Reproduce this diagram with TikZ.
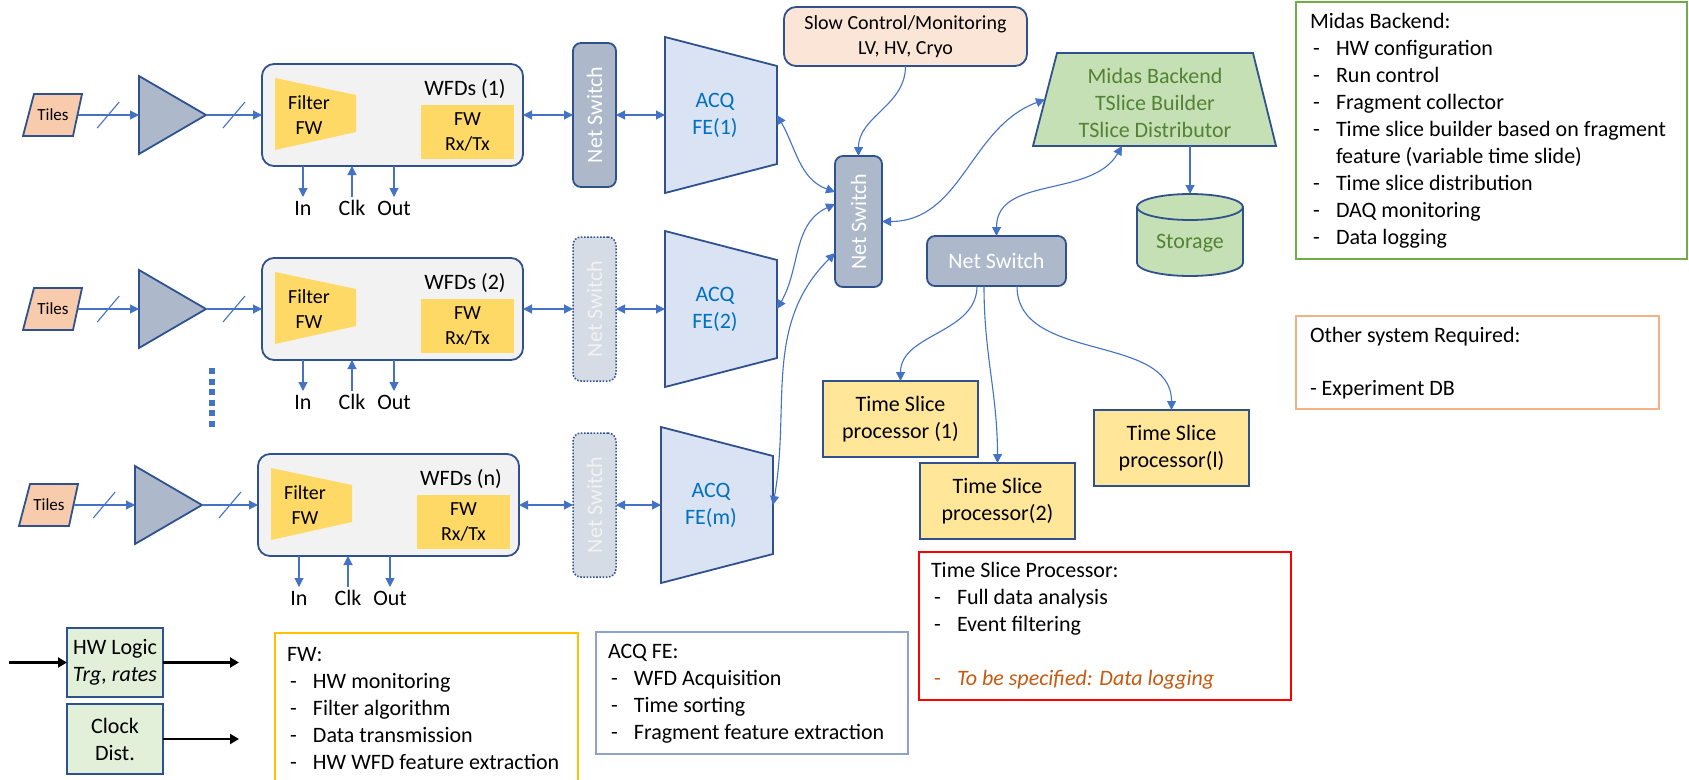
\documentclass[tikz,border=0pt]{standalone}
\usepackage{fontspec}
\setmainfont{Carlito}
\usetikzlibrary{arrows.meta,calc}

\definecolor{wireblue}{HTML}{4472C4}
\definecolor{rim}{HTML}{2F528F}
\definecolor{tilefill}{HTML}{F8CBAD}
\definecolor{switchfill}{HTML}{ADB9CA}
\definecolor{switchpale}{HTML}{D6DCE5}
\definecolor{boardfill}{HTML}{F2F2F2}
\definecolor{fwfill}{HTML}{FFD966}
\definecolor{fefill}{HTML}{DAE3F3}
\definecolor{fetext}{HTML}{0070C0}
\definecolor{slowfill}{HTML}{FBE5D6}
\definecolor{midfill}{HTML}{C5E0B4}
\definecolor{midtext}{HTML}{548235}
\definecolor{tspfill}{HTML}{FFE699}
\definecolor{logicfill}{HTML}{E2F0D9}
\definecolor{midrim}{HTML}{70AD47}
\definecolor{otherrim}{HTML}{F4B183}
\definecolor{tsprim}{HTML}{FF0000}
\definecolor{todo}{HTML}{C55A11}
\definecolor{fwrim}{HTML}{FFC000}
\definecolor{acqrim}{HTML}{8FA3C8}

\newcommand{\fsz}[2]{\fontsize{#1}{#2}\selectfont}
\newcommand{\ditem}[1]{\makebox[26pt][l]{\hspace{3pt}-}#1}
\newcommand{\dcont}[1]{\hspace*{26pt}#1}

\tikzset{
  every node/.style={inner sep=0pt, outer sep=0pt},
  txt/.style={font=\fsz{22}{27}, align=center},
  wire/.style={draw=wireblue, line width=1.1pt},
  shapeline/.style={draw=rim, line width=1.8pt},
  board/.style={shapeline, fill=boardfill, rounded corners=12pt},
  switchbox/.style={shapeline, fill=switchfill, rounded corners=8pt},
  paleswitch/.style={draw=rim, line width=1.5pt, dash pattern=on 1.6pt off 1.6pt, fill=switchpale, rounded corners=8pt},
  slowbox/.style={shapeline, fill=slowfill, rounded corners=12pt, font=\fsz{20}{25}, align=center},
  tspbox/.style={shapeline, fill=tspfill, txt},
  logic/.style={shapeline, fill=logicfill, txt},
  descbox/.style={line width=1.4pt, fill=white},
  desctext/.style={font=\fsz{22}{27}, align=left, anchor=north west},
  blackarrow/.style={draw=black, line width=2.2pt, -{Triangle[width=10pt,length=9pt]}},
  rowlabel/.style={txt, anchor=north, text height=15pt, text depth=5pt},
}

% one acquisition chain: tiles, amplifier, WFD board, network switch, front end
% #1 id, #2 row centre (px from top), #3 x offset, #4 board index,
% #5 switch style, #6 front-end label, #7 switch text colour
\newcommand{\wfdrow}[7]{%
  \path[shapeline, fill=tilefill] (34+#3,-#2+21) -- (82+#3,-#2+21) -- (73+#3,-#2-21) -- (23+#3,-#2-21) -- cycle;
  \node[font=\fsz{17}{20}, minimum width=49pt, minimum height=42pt] (tiles#1) at (53+#3,-#2) {Tiles};
  \path[shapeline, fill=switchfill] (139+#3,-#2+39) -- (206+#3,-#2) -- (139+#3,-#2-39) -- cycle;
  \node[minimum width=67pt, minimum height=78pt] (amp#1) at (172.5+#3,-#2) {};
  \node[board, minimum width=261pt, minimum height=102pt] (wfd#1) at (392.5+#3,-#2) {};
  \path[fill=fwfill] (275+#3,-#2+37) -- (356+#3,-#2+20) -- (356+#3,-#2-17) -- (275+#3,-#2-35) -- cycle;
  \node[font=\fsz{20}{25}, align=center] (filt#1) at (309+#3,-#2) {Filter\\FW};
  \node[txt] (lab#1) at (465+#3,-#2+26) {WFDs (#4)};
  \node[fill=fwfill, minimum width=93pt, minimum height=54pt, font=\fsz{20}{25}, align=center] (rxtx#1) at (467.5+#3,-#2-17) {FW\\Rx/Tx};
  \node[rowlabel] (in#1) at (303+#3,-#2-85) {In};
  \node[rowlabel] (clk#1) at (352+#3,-#2-85) {Clk};
  \node[rowlabel] (out#1) at (394+#3,-#2-85) {Out};
  \node[#5, minimum width=43pt, minimum height=144pt] (ns#1) at (594.5,-#2) {};
  \node[txt, rotate=90, text=#7] (nst#1) at (ns#1) {Net Switch};
  \path[shapeline, fill=fefill] (665+#3,-#2+78) -- (777+#3,-#2+49) -- (777+#3,-#2-49) -- (665+#3,-#2-78) -- cycle;
  \node[minimum width=112pt, minimum height=156pt] (fe#1) at (721+#3,-#2) {};
  \node[txt, text=fetext] (fet#1) at (715+#3,-#2) {ACQ\\#6};
  \draw[wire, ->] (tiles#1.east) -- (amp#1.west);
  \draw[wire] ($(tiles#1.east)!0.5!(amp#1.west)$) +(-11,-13) -- +(11,13);
  \draw[wire, ->] (amp#1.east) -- (wfd#1.west);
  \draw[wire] ($(amp#1.east)!0.5!(wfd#1.west)$) +(-11,-13) -- +(11,13);
  \draw[wire, <->] (wfd#1.east) -- (ns#1.west);
  \draw[wire, <->] (ns#1.east) -- (fe#1.west);
  \draw[wire, ->] (wfd#1.south -| in#1.north) -- ([yshift=3pt]in#1.north);
  \draw[wire, ->] ([yshift=3pt]clk#1.north) -- (wfd#1.south -| clk#1.north);
  \draw[wire, ->] (wfd#1.south -| out#1.north) -- ([yshift=3pt]out#1.north);
}

\begin{document}
\begin{tikzpicture}[x=1pt, y=1pt, >={Triangle[width=9pt,length=9pt]}]
\useasboundingbox (0,0) rectangle (1689,-779);
\fill[white] (0,0) rectangle (1689,-779);

% acquisition chains
\wfdrow{1}{115}{0}{1}{switchbox}{FE(1)}{white}
\wfdrow{2}{309}{0}{2}{paleswitch}{FE(2)}{boardfill}
\wfdrow{3}{505}{-4}{n}{paleswitch}{FE(m)}{boardfill}

% vertical ellipsis between chains
\draw[wireblue, line width=6pt, dash pattern=on 6pt off 4.5pt] (212,-368) -- (212,-431);

% central switch
\node[switchbox, minimum width=47pt, minimum height=131pt] (csw) at (858.5,-221.5) {};
\node[txt, rotate=90, text=white] (cswt) at (csw) {Net Switch};

% slow control
\node[slowbox, minimum width=243pt, minimum height=59pt] (slow) at (905.5,-36.5) {Slow Control/Monitoring\\LV, HV, Cryo};

% Midas backend
\path[shapeline, fill=midfill] (1057,-53) -- (1253,-53) -- (1276,-146) -- (1033,-146) -- cycle;
\node[minimum width=243pt, minimum height=93pt] (midas) at (1154.5,-99.5) {};
\node[txt, text=midtext] (midast) at (1155,-103) {Midas Backend\\TSlice Builder\\TSlice Distributor};

% storage
\path[fill=midfill] (1137,-207) -- (1137,-263) arc[start angle=180, end angle=360, x radius=53, y radius=13] -- (1243,-207) arc[start angle=0, end angle=180, x radius=53, y radius=13] -- cycle;
\draw[shapeline] (1137,-207) -- (1137,-263) arc[start angle=180, end angle=360, x radius=53, y radius=13] -- (1243,-207);
\draw[shapeline] (1190,-207) ellipse[x radius=53, y radius=13];
\node[minimum width=106pt, minimum height=82pt] (stor) at (1190,-235) {};
\node[txt, text=midtext] (stort) at (1190,-243) {Storage};

% processing farm switch and processors
\node[switchbox, txt, text=white, minimum width=139pt, minimum height=50pt] (ns2) at (996.5,-261) {Net Switch};
\node[tspbox, minimum width=155pt, minimum height=76pt] (tsp1) at (900.5,-419) {Time Slice\\processor (1)};
\node[tspbox, minimum width=155pt, minimum height=76pt] (tsp2) at (997.5,-501) {Time Slice\\processor(2)};
\node[tspbox, minimum width=155pt, minimum height=76pt] (tsp3) at (1171.5,-448) {Time Slice\\processor(l)};

% network links
\draw[wire, <->] (fe1.east) to[out=-60, in=160] ([yshift=29.5pt]csw.west);
\draw[wire, <->] (fe2.east) to[out=60, in=205] ([yshift=17.5pt]csw.west);
\draw[wire, <->] (fe3.east) to[out=80, in=225] ([yshift=-31.5pt]csw.west);
\draw[wire, ->] (slow.south) to[out=-90, in=90] (csw.north);
\draw[wire, <->] (csw.east) to[out=0, in=200] ([xshift=12pt]midas.west);
\draw[wire, ->] (midas.south -| stor.north) -- (stor.north);
\draw[wire, <->] ([xshift=-32.5pt]midas.south) to[out=240, in=90] (ns2.north);
\draw[wire, ->] ([xshift=-19.5pt]ns2.south) to[out=-90, in=90] (tsp1.north);
\draw[wire, ->] ([xshift=-12.5pt]ns2.south) to[out=-90, in=90] (tsp2.north);
\draw[wire, ->] ([xshift=20.5pt]ns2.south) to[out=-90, in=90] (tsp3.north);

% hardware logic and clock
\node[logic, minimum width=96pt, minimum height=69pt] (hw) at (115,-662.5) {HW Logic\\\textit{Trg, rates}};
\node[logic, minimum width=96pt, minimum height=70pt] (clock) at (115,-739) {Clock\\Dist.};
\coordinate (hwin) at (9,-662.5);
\coordinate (hwout) at (239,-662.5);
\coordinate (clockout) at (239,-739);
\draw[blackarrow] (hwin) -- (hw.west);
\draw[blackarrow] (hw.east) -- (hwout);
\draw[blackarrow] (clock.east) -- (clockout);

% description panels
\node[descbox, draw=fwrim, minimum width=303pt, minimum height=170pt, anchor=north west] (fwbox) at (275,-633) {};
\node[desctext] (fwtext) at (287,-643) {\strut FW:\\\ditem{HW monitoring}\\\ditem{Filter algorithm}\\\ditem{Data transmission}\\\ditem{HW WFD feature extraction}};

\node[descbox, draw=acqrim, minimum width=312pt, minimum height=122pt, anchor=north west] (acqbox) at (596,-632) {};
\node[desctext] (acqtext) at (608,-640) {\strut ACQ FE:\\\ditem{WFD Acquisition}\\\ditem{Time sorting}\\\ditem{Fragment feature extraction}};

\node[descbox, draw=tsprim, minimum width=372pt, minimum height=148pt, anchor=north west] (tspdbox) at (919,-552) {};
\node[desctext] (tspdtext) at (931,-559) {\strut Time Slice Processor:\\\ditem{Full data analysis}\\\ditem{Event filtering}\\[27pt]\textcolor{todo}{\ditem{\textit{To be specified: Data logging}}}};

\node[descbox, draw=midrim, minimum width=391pt, minimum height=257pt, anchor=north west] (midbox) at (1296,-2) {};
\node[desctext] (midtext) at (1310,-10) {\strut Midas Backend:\\\ditem{HW configuration}\\\ditem{Run control}\\\ditem{Fragment collector}\\\ditem{Time slice builder based on fragment}\\\dcont{feature (variable time slide)}\\\ditem{Time slice distribution}\\\ditem{DAQ monitoring}\\\ditem{Data logging}};

\node[descbox, draw=otherrim, minimum width=363pt, minimum height=93pt, anchor=north west] (otherbox) at (1296,-316) {};
\node[desctext] (othertext) at (1310,-324) {\strut Other system Required:\\[26pt]- Experiment DB};
\end{tikzpicture}
\end{document}
